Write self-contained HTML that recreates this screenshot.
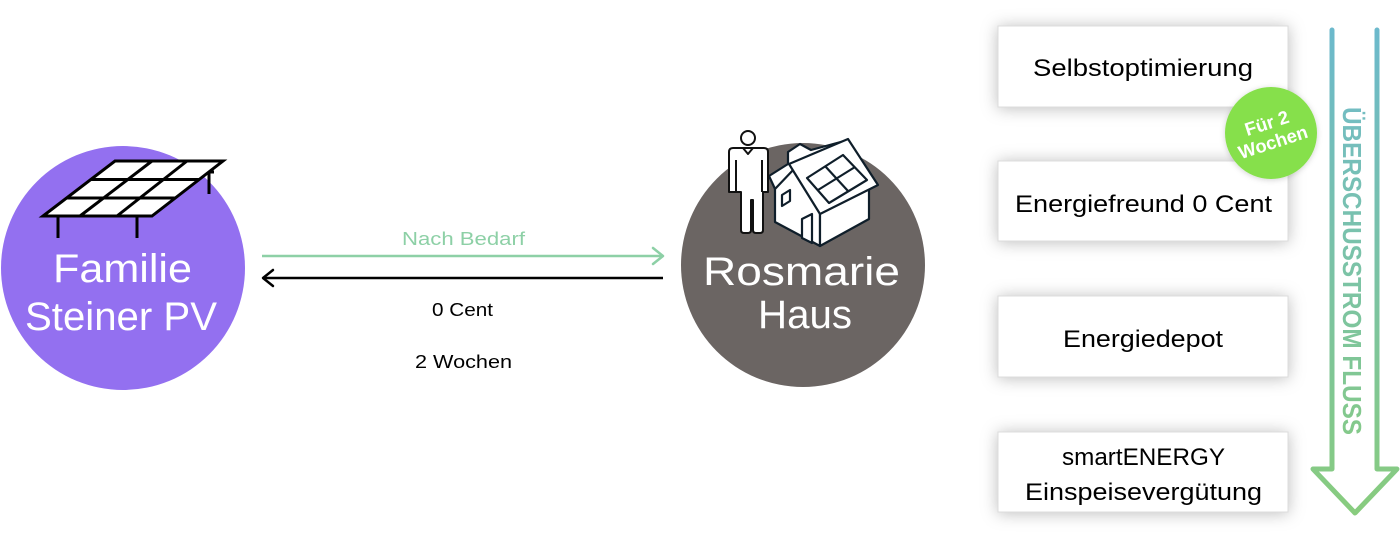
<!DOCTYPE html>
<html><head><meta charset="utf-8"><style>
html,body{margin:0;padding:0;background:#fff;}
svg{display:block;}
text{font-family:"Liberation Sans",sans-serif;}
</style></head><body>
<svg width="1400" height="538" viewBox="0 0 1400 538" xmlns="http://www.w3.org/2000/svg">
<defs>
  <filter id="sh" x="-20%" y="-50%" width="140%" height="200%">
    <feDropShadow dx="0" dy="1" stdDeviation="8" flood-color="#000" flood-opacity="0.26"/>
  </filter>
  <filter id="bsh" x="-30%" y="-30%" width="160%" height="160%">
    <feDropShadow dx="0" dy="1" stdDeviation="3" flood-color="#000" flood-opacity="0.18"/>
  </filter>
  <linearGradient id="ag" gradientUnits="userSpaceOnUse" x1="0" y1="29" x2="0" y2="514">
    <stop offset="0" stop-color="#6cb9cc"/>
    <stop offset="1" stop-color="#88cc7e"/>
  </linearGradient>
  <linearGradient id="tg" gradientUnits="userSpaceOnUse" x1="0" y1="0" x2="328" y2="0">
    <stop offset="0" stop-color="#73bdc2"/>
    <stop offset="1" stop-color="#84c98a"/>
  </linearGradient>
</defs>

<!-- Purple circle -->
<circle cx="123" cy="268" r="122" fill="#9370f0"/>
<!-- Solar panel -->
<g stroke="#000" stroke-width="3" fill="none" stroke-linecap="butt">
  <line x1="58" y1="216" x2="58" y2="238"/>
  <line x1="137" y1="216" x2="137" y2="238"/>
  <line x1="209" y1="171" x2="209" y2="194"/>
  <line x1="207" y1="172" x2="214" y2="172"/>
  <polygon points="115,161 223,161 152,216 43,216" fill="#fff" stroke-linejoin="miter"/>
  <line x1="91" y1="179.5" x2="199" y2="179.5"/>
  <line x1="67" y1="198" x2="175" y2="198"/>
  <line x1="152" y1="161" x2="80" y2="216"/>
  <line x1="187" y1="161" x2="117" y2="216"/>
</g>
<text x="53" y="282" font-size="40" fill="#fff" textLength="139" lengthAdjust="spacingAndGlyphs">Familie</text>
<text x="25" y="330" font-size="40" fill="#fff" textLength="192" lengthAdjust="spacingAndGlyphs">Steiner PV</text>

<!-- Middle arrows -->
<line x1="262" y1="256" x2="662" y2="256" stroke="#8dd0a6" stroke-width="2.5"/>
<polyline points="653,248 663,256 653,264" fill="none" stroke="#8dd0a6" stroke-width="2.5" stroke-linecap="round" stroke-linejoin="round"/>
<line x1="263" y1="278" x2="663" y2="278" stroke="#000" stroke-width="2.5"/>
<polyline points="273,270 263,278 273,286" fill="none" stroke="#000" stroke-width="2.5" stroke-linecap="round" stroke-linejoin="round"/>
<text x="402" y="245" font-size="18" fill="#8dd0a6" textLength="123" lengthAdjust="spacingAndGlyphs">Nach Bedarf</text>
<text x="432" y="316" font-size="18" fill="#000" textLength="61" lengthAdjust="spacingAndGlyphs">0 Cent</text>
<text x="415" y="368" font-size="18" fill="#000" textLength="97" lengthAdjust="spacingAndGlyphs">2 Wochen</text>

<!-- Gray circle -->
<circle cx="803" cy="265" r="122" fill="#6b6563"/>
<!-- House -->
<g stroke="#0f1e2a" stroke-width="2.2" stroke-linejoin="round" fill="#fff">
  <path d="M769,176 L788,164 L788,152 L800,144 L811,150 L848,140 L800,175 L776,191 Z"/>
  <path d="M775,222 L775,189 L795,168 L820,210 L820,246 Z"/>
  <path d="M820,212 L869,188 L869,219 L820,246 Z"/>
  <path d="M789,164 L848,139 L878,185 L820,214 Z"/>
  <path d="M807,178 L843,155 L867,180 L829,203 Z" fill="#fff"/>
  <line x1="825" y1="166" x2="848" y2="191"/>
  <line x1="818" y1="190" x2="855" y2="167"/>
  <path d="M782,195 L790,190 L790,201 L782,206 Z"/>
  <path d="M802,219 L812,214 L812,243 L802,238 Z"/>
</g>
<!-- Person -->
<g stroke="#111" stroke-width="2" stroke-linejoin="round" fill="#fff">
  <circle cx="748" cy="138" r="7"/>
  <path d="M733,148 H764 Q768,148 768,152 V192 H763 V230 Q763,233 760,233 H756 Q753,233 753,230 V200 H751 V230 Q751,233 748,233 H744 Q741,233 741,230 V192 H729 V152 Q729,148 733,148 Z"/>
  <path d="M736,160 V192 M762,160 V192 M743,148 L748,154 L753,148" fill="none"/>
</g>
<text x="703" y="285" font-size="40" fill="#fff" textLength="197" lengthAdjust="spacingAndGlyphs">Rosmarie</text>
<text x="758" y="328" font-size="40" fill="#fff" textLength="94" lengthAdjust="spacingAndGlyphs">Haus</text>

<!-- Boxes -->
<g filter="url(#sh)">
  <rect x="998" y="26" width="290" height="81" fill="#fff" stroke="#dcdcdc" stroke-width="1"/>
  <rect x="998" y="161" width="290" height="80" fill="#fff" stroke="#dcdcdc" stroke-width="1"/>
  <rect x="998" y="296" width="290" height="81" fill="#fff" stroke="#dcdcdc" stroke-width="1"/>
  <rect x="998" y="432" width="290" height="80" fill="#fff" stroke="#dcdcdc" stroke-width="1"/>
</g>
<text x="1033" y="76" font-size="24" fill="#000" textLength="220" lengthAdjust="spacingAndGlyphs">Selbstoptimierung</text>
<text x="1015" y="212" font-size="24" fill="#000" textLength="257" lengthAdjust="spacingAndGlyphs">Energiefreund 0 Cent</text>
<text x="1063" y="347" font-size="24" fill="#000" textLength="160" lengthAdjust="spacingAndGlyphs">Energiedepot</text>
<text x="1062" y="465" font-size="24" fill="#000" textLength="163" lengthAdjust="spacingAndGlyphs">smartENERGY</text>
<text x="1025" y="500" font-size="24" fill="#000" textLength="237" lengthAdjust="spacingAndGlyphs">Einspeisevergütung</text>

<!-- Badge -->
<circle cx="1271" cy="133" r="46" fill="#86e04b" filter="url(#bsh)"/>
<g transform="translate(1270,133) rotate(-18)" fill="#fff" font-weight="bold" font-size="18.5" text-anchor="middle">
  <text x="0" y="-4">Für 2</text>
  <text x="0" y="16">Wochen</text>
</g>

<!-- Big down arrow -->
<path d="M1332,30 V469 H1313 L1355,513 L1397,469 H1377 V30" fill="none" stroke="url(#ag)" stroke-width="5" stroke-linecap="round" stroke-linejoin="round"/>
<g transform="translate(1343,107) rotate(90)">
  <text x="0" y="0" font-size="26" font-weight="bold" fill="url(#tg)" textLength="328" lengthAdjust="spacingAndGlyphs">ÜBERSCHUSSTROM FLUSS</text>
</g>
</svg>
</body></html>
